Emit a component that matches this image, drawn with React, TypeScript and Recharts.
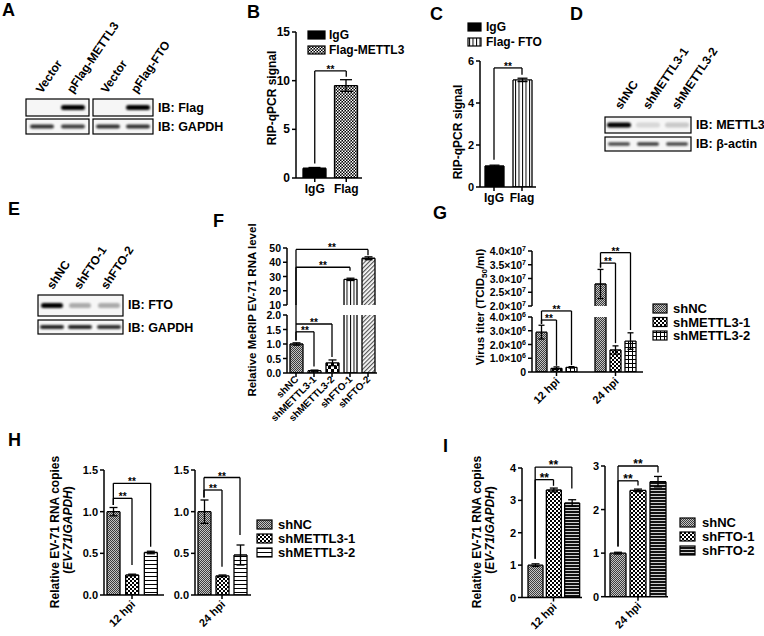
import React from "react";
import { BarChart, Bar, XAxis, YAxis, Cell, ErrorBar, ReferenceLine } from "recharts";

const FONT = "'Liberation Sans', Arial, sans-serif";
const AX = { stroke: "#000", strokeWidth: 1.5 };

type Bracket = [string, string, number, number, number]; // from, to, level, left foot, right foot
type Leg = [string, number, number];

// ---------- data ----------
const B_CATS = ["IgG", "Flag"];
const B_VALUES = [1.0, 9.5];
const B_ERRORS = [0.08, 0.6];
const B_TICKS = [0, 5, 10, 15];
const B_BRACKETS: Bracket[] = [["IgG", "Flag", 11, 1.5, 10.4]];

const C_CATS = ["IgG", "Flag"];
const C_VALUES = [1.0, 5.1];
const C_ERRORS = [0.04, 0.08];
const C_TICKS = [0, 2, 4, 6];
const C_BRACKETS: Bracket[] = [["IgG", "Flag", 5.67, 1.3, 5.35]];

const F_CATS = ["shNC", "shMETTL3-1", "shMETTL3-2", "shFTO-1", "shFTO-2"];
const F_VALUES = [1.0, 0.08, 0.35, 28.0, 42.8];
const F_ERRORS = [0.04, 0.02, 0.1, 0.8, 1.0];
const F_LOW_TICKS = [0, 0.5, 1, 1.5, 2];
const F_HIGH_TICKS = [10, 20, 30, 40, 50];
const F_LOW_BRACKETS: Bracket[] = [
  ["shNC", "shMETTL3-1", 1.42, 1.12, 0.22],
  ["shNC", "shMETTL3-2", 1.69, 1.12, 0.55],
];
const F_LOW_LEGS: Leg[] = [["shNC", 1.69, 2.35]];
const F_HIGH_BRACKETS: Bracket[] = [
  ["shNC", "shFTO-1", 36.5, 10, 34],
  ["shNC", "shFTO-2", 49, 10, 45],
];

const G_CATS = ["shNC", "shMETTL3-1", "shMETTL3-2"];
const G_12_VALUES = [2.9e6, 0.27e6, 0.34e6];
const G_12_ERRORS = [0.5e6, 0.1e6, 0.05e6];
const G_24_VALUES = [2.8e7, 1.6e6, 2.25e6];
const G_24_ERRORS = [0.53e7, 0.3e6, 0.6e6];
const G_LOW_TICKS = [0, 1e6, 2e6, 3e6, 4e6];
const G_HIGH_TICKS = [2e7, 2.5e7, 3e7, 3.5e7, 4e7];
const G_12_BRACKETS: Bracket[] = [
  ["shNC", "shMETTL3-1", 3.78e6, 3.5e6, 0.45e6],
  ["shNC", "shMETTL3-2", 4.44e6, 3.5e6, 0.5e6],
];
const G_24_BRACKETS: Bracket[] = [
  ["shNC", "shMETTL3-1", 3.56e7, 3.4e7, 2e7],
  ["shNC", "shMETTL3-2", 3.94e7, 3.4e7, 2e7],
];
const G_24_LEGS: Leg[] = [
  ["shMETTL3-1", 2.1e6, 4.8e6],
  ["shMETTL3-2", 3.05e6, 4.8e6],
];

const H_CATS = ["shNC", "shMETTL3-1", "shMETTL3-2"];
const H_TICKS = [0, 0.5, 1, 1.5];
const H_12_VALUES = [1.0, 0.24, 0.51];
const H_12_ERRORS = [0.05, 0.01, 0.015];
const H_24_VALUES = [1.0, 0.23, 0.48];
const H_24_ERRORS = [0.14, 0.01, 0.12];
const H_12_BRACKETS: Bracket[] = [
  ["shNC", "shMETTL3-1", 1.16, 1.08, 0.36],
  ["shNC", "shMETTL3-2", 1.34, 1.08, 0.58],
];
const H_24_BRACKETS: Bracket[] = [
  ["shNC", "shMETTL3-1", 1.26, 1.17, 0.34],
  ["shNC", "shMETTL3-2", 1.41, 1.17, 0.72],
];

const I_CATS = ["shNC", "shFTO-1", "shFTO-2"];
const I_12_TICKS = [0, 1, 2, 3, 4];
const I_24_TICKS = [0, 1, 2, 3];
const I_12_VALUES = [1.0, 3.32, 2.92];
const I_12_ERRORS = [0.04, 0.06, 0.1];
const I_24_VALUES = [1.0, 2.44, 2.64];
const I_24_ERRORS = [0.02, 0.03, 0.12];
const I_12_BRACKETS: Bracket[] = [
  ["shNC", "shFTO-1", 3.64, 1.2, 3.45],
  ["shNC", "shFTO-2", 4.03, 1.2, 3.37],
];
const I_24_BRACKETS: Bracket[] = [
  ["shNC", "shFTO-1", 2.66, 1.15, 2.55],
  ["shNC", "shFTO-2", 3.0, 1.15, 2.85],
];

// western blot band strengths, per lane
const A_FLAG = [0, 1, 0, 1];
const A_GAPDH = [0.8, 0.75, 0.8, 0.8];
const D_METTL3 = [1, 0.12, 0.18];
const D_ACTIN = [0.7, 0.75, 0.7];
const E_FTO = [1, 0.3, 0.3];
const E_GAPDH = [0.85, 0.85, 0.8];

// ---------- fills ----------
const B_FILLS = ["#000", "url(#pCheckFine)"];
const C_FILLS = ["#000", "url(#pVert)"];
const F_FILLS = ["url(#pGray)", "url(#pGrid)", "url(#pCheckBig)", "url(#pVert)", "url(#pDiag)"];
const G_FILLS = ["url(#pGray)", "url(#pCheck)", "url(#pGrid)"];
const H_FILLS = ["url(#pGray)", "url(#pCheck)", "url(#pHorizW)"];
const I_FILLS = ["url(#pGray)", "url(#pCheck)", "url(#pHorizB)"];

const fmt0 = (v: number) => String(v);
const fmt1 = (v: number) => v.toFixed(1);
const fmtSci = (exp: number) => (v: number) =>
  v === 0 ? "0" : (
    <>
      {(v / 10 ** exp).toFixed(1)}×10
      <tspan dy={-4} fontSize={7}>{exp}</tspan>
    </>
  );

function lowPart(values: number[], errors: number[], max: number) {
  return {
    v: values.map((v) => Math.min(v, max)),
    e: errors.map((e, i) => (values[i] > max ? null : e)),
  };
}
function highPart(values: number[], errors: number[], min: number) {
  return {
    v: values.map((v) => (v > min ? v : null)),
    e: errors.map((e, i) => (values[i] > min ? e : null)),
  };
}

// "**" over a bracket, drawn from the reference line's own box
const stars = (size: number) => (lp: any) => {
  const vb = lp?.viewBox;
  if (!vb || !isFinite(vb.x)) return null;
  return (
    <text x={vb.x + vb.width / 2} y={vb.y + 2} textAnchor="middle" fontSize={size} fontWeight={700}
      fill="#000" stroke="none" fontFamily={FONT}>
      **
    </text>
  );
};

interface SegProps {
  x: number; y: number; w: number; h: number;
  cats: string[];
  values: (number | null)[];
  errors: (number | null)[];
  fills: string[];
  domain: [number, number];
  ticks: number[];
  fmt: (v: number) => React.ReactNode;
  barSize: number;
  padL?: number;
  padR?: number;
  showY?: boolean;
  xMode: "none" | "flat" | "rot" | "group";
  groupLabel?: string;
  brackets?: Bracket[];
  legs?: Leg[];
  star?: number;
  tickFont?: number;
}

function Seg(p: SegProps) {
  const ML = 70, MT = 30, MR = 20, MB = 60;
  const rows = p.cats.map((name, i) => ({ name, v: p.values[i], e: p.errors[i] }));
  const refs: React.ReactNode[] = [];
  const line = (key: string, a: any, b: any, label?: any) =>
    refs.push(
      <ReferenceLine key={key} segment={[a, b]} stroke="#000" strokeWidth={1.3} ifOverflow="visible" label={label} />
    );
  (p.brackets ?? []).forEach(([a, b, y, ya, yb], i) => {
    line(`a${i}`, { x: a, y: ya }, { x: a, y });
    line(`m${i}`, { x: a, y }, { x: b, y }, stars(p.star ?? 10));
    line(`b${i}`, { x: b, y }, { x: b, y: yb });
  });
  (p.legs ?? []).forEach(([c, y1, y2], i) => line(`g${i}`, { x: c, y: y1 }, { x: c, y: y2 }));

  // bars cut by the axis break stay open on the cut side
  const barShape = (sp: any) => {
    const { x, y, width, height, fill } = sp;
    if (!(height > 0) || !(width > 0)) return <g />;
    const openTop = sp.payload && sp.payload.v >= p.domain[1];
    const openBottom = p.domain[0] > 0;
    const sides = [
      `M${x},${y + height} L${x},${y}`,
      `M${x + width},${y} L${x + width},${y + height}`,
      openTop ? "" : `M${x},${y} L${x + width},${y}`,
      openBottom ? "" : `M${x},${y + height} L${x + width},${y + height}`,
    ].join(" ");
    return (
      <g>
        <rect x={x} y={y} width={width} height={height} fill={fill} />
        <path d={sides} stroke="#000" strokeWidth={1.3} fill="none" />
      </g>
    );
  };

  const tf = p.tickFont ?? 11;
  const yTick = (t: any) => (
    <text x={t.x} y={t.y} dy={4} textAnchor="end" fontSize={tf} fontWeight={700} fontFamily={FONT} fill="#000">
      {p.fmt(t.payload.value)}
    </text>
  );
  const rotTick = (t: any) => (
    <g transform={`translate(${t.x + 3},${t.y + 3}) rotate(-45)`}>
      <text textAnchor="end" fontSize={10} fontWeight={700} fontFamily={FONT} fill="#000">{t.payload.value}</text>
    </g>
  );
  const mid = p.cats[1];
  const groupTick = (t: any) =>
    t.payload.value !== mid ? <g /> : (
      <g>
        <line x1={t.x} y1={t.y} x2={t.x} y2={t.y + 4} {...AX} />
        <g transform={`translate(${t.x + 4},${t.y + 10}) rotate(-45)`}>
          <text textAnchor="end" fontSize={11} fontWeight={700} fontFamily={FONT} fill="#000">{p.groupLabel}</text>
        </g>
      </g>
    );

  let xProps: any = { axisLine: false, tickLine: false, tick: false };
  if (p.xMode === "flat")
    xProps = { axisLine: AX, tickLine: AX, tickSize: 4, tick: { fontSize: 12, fontWeight: 700, fill: "#000", fontFamily: FONT } };
  if (p.xMode === "rot") xProps = { axisLine: AX, tickLine: AX, tickSize: 4, tickMargin: 0, tick: rotTick };
  if (p.xMode === "group") xProps = { axisLine: AX, tickLine: false, tickSize: 0, tickMargin: 0, tick: groupTick };

  const show = p.showY !== false;
  return (
    <div style={{ position: "absolute", left: p.x - ML, top: p.y - MT }}>
      <BarChart width={ML + p.w + MR} height={MT + p.h + MB} data={rows} margin={{ top: MT, right: MR, left: 0, bottom: 0 }}>
        <XAxis dataKey="name" height={MB} interval={0} padding={{ left: p.padL ?? 0, right: p.padR ?? 0 }} {...xProps} />
        <YAxis
          type="number"
          width={ML}
          domain={p.domain}
          ticks={p.ticks}
          interval={0}
          allowDataOverflow
          axisLine={show ? AX : false}
          tickLine={show ? AX : false}
          tickSize={4}
          tickMargin={2}
          tick={show ? yTick : false}
        />
        <Bar dataKey="v" barSize={p.barSize} shape={barShape} isAnimationActive={false}>
          {rows.map((r, i) => (
            <Cell key={i} fill={p.fills[i]} />
          ))}
          <ErrorBar dataKey="e" width={Math.max(3, Math.round(p.barSize * 0.28))} stroke="#000" strokeWidth={1.3} direction="y" />
        </Bar>
        {refs}
      </BarChart>
    </div>
  );
}

function Blot({ x, y, w, h, lanes, levels, bw, bh }: any) {
  return (
    <g>
      <rect x={x} y={y} width={w} height={h} fill="#f6f6f6" stroke="#000" strokeWidth={1.2} />
      {lanes.map((cx: number, i: number) =>
        levels[i] > 0 ? (
          <rect key={i} x={cx - bw / 2} y={y + h / 2 - bh / 2} width={bw} height={bh} rx={bh / 2}
            fill="#000" opacity={levels[i]} filter="url(#blur)" />
        ) : null
      )}
    </g>
  );
}

function Lanes({ starts, y, labels }: { starts: number[]; y: number; labels: string[] }) {
  return (
    <>
      {labels.map((l, i) => (
        <g key={l + i} transform={`translate(${starts[i]},${y}) rotate(-56)`}>
          <text fontSize={12} fontWeight={700} fill="#000">{l}</text>
        </g>
      ))}
    </>
  );
}

function Legend({ x, y, items, bw, bh, step, dx, fs }: any) {
  return (
    <g>
      {items.map(([fill, label]: [string, string], i: number) => (
        <g key={label}>
          <rect x={x} y={y + i * step} width={bw} height={bh} fill={fill} stroke="#000" strokeWidth={1.2} />
          <text x={x + dx} y={y + i * step + bh / 2 + fs * 0.36} fontSize={fs} fontWeight={700} fill="#000">{label}</text>
        </g>
      ))}
    </g>
  );
}

function VTitle({ cx, cy, fs, children }: any) {
  return (
    <text transform={`translate(${cx + fs * 0.36},${cy}) rotate(-90)`} textAnchor="middle" fontSize={fs} fontWeight={700} fill="#000">
      {children}
    </text>
  );
}

function Overlay() {
  const letters: [string, number, number][] = [
    ["A", 2, 16], ["B", 247, 18], ["C", 430, 20], ["D", 570, 20], ["E", 8, 215],
    ["F", 213, 227], ["G", 433, 219], ["H", 8, 446], ["I", 443, 452],
  ];
  return (
    <svg width={764} height={636} style={{ position: "absolute", left: 0, top: 0 }} fontFamily={FONT}>
      <defs>
        <filter id="blur" x="-30%" y="-100%" width="160%" height="300%">
          <feGaussianBlur stdDeviation="1.1" />
        </filter>
        <pattern id="pGray" width={2} height={2} patternUnits="userSpaceOnUse">
          <rect width={2} height={2} fill="#c4c4c4" />
          <rect width={1} height={1} fill="#3c3c3c" />
          <rect x={1} y={1} width={1} height={1} fill="#3c3c3c" />
        </pattern>
        <pattern id="pCheckFine" width={3} height={3} patternUnits="userSpaceOnUse">
          <rect width={3} height={3} fill="#000" />
          <rect width={1.5} height={1.5} fill="#fff" />
          <rect x={1.5} y={1.5} width={1.5} height={1.5} fill="#fff" />
        </pattern>
        <pattern id="pCheck" width={4} height={4} patternUnits="userSpaceOnUse">
          <rect width={4} height={4} fill="#fff" />
          <rect width={2} height={2} fill="#000" />
          <rect x={2} y={2} width={2} height={2} fill="#000" />
        </pattern>
        <pattern id="pCheckBig" width={6} height={6} patternUnits="userSpaceOnUse">
          <rect width={6} height={6} fill="#fff" />
          <rect width={3} height={3} fill="#000" />
          <rect x={3} y={3} width={3} height={3} fill="#000" />
        </pattern>
        <pattern id="pVert" width={3.5} height={4} patternUnits="userSpaceOnUse">
          <rect width={3.5} height={4} fill="#fff" />
          <rect width={1} height={4} fill="#000" />
        </pattern>
        <pattern id="pHorizW" width={4} height={4} patternUnits="userSpaceOnUse">
          <rect width={4} height={4} fill="#fff" />
          <rect width={4} height={1} fill="#000" />
        </pattern>
        <pattern id="pHorizB" width={3} height={3} patternUnits="userSpaceOnUse">
          <rect width={3} height={3} fill="#111" />
          <rect width={3} height={0.8} fill="#fff" />
        </pattern>
        <pattern id="pGrid" width={4} height={4} patternUnits="userSpaceOnUse">
          <rect width={4} height={4} fill="#fff" />
          <rect width={1} height={4} fill="#000" />
          <rect width={4} height={1} fill="#000" />
        </pattern>
        <pattern id="pDiag" width={3} height={3} patternUnits="userSpaceOnUse" patternTransform="rotate(45)">
          <rect width={3} height={3} fill="#fff" />
          <rect width={1.2} height={3} fill="#555" />
        </pattern>
      </defs>

      {letters.map(([t, x, y]) => (
        <text key={t} x={x} y={y} fontSize={18} fontWeight={700} fill="#000">{t}</text>
      ))}

      {/* A */}
      <Lanes starts={[42, 73, 107, 137]} y={94} labels={["Vector", "pFlag-METTL3", "Vector", "pFlag-FTO"]} />
      <Blot x={26} y={99} w={63} h={17} lanes={[42, 73]} levels={A_FLAG.slice(0, 2)} bw={24} bh={5} />
      <Blot x={93} y={99} w={60} h={17} lanes={[108, 138]} levels={A_FLAG.slice(2)} bw={24} bh={5} />
      <Blot x={26} y={119} w={63} h={15} lanes={[42, 73]} levels={A_GAPDH.slice(0, 2)} bw={24} bh={4} />
      <Blot x={93} y={119} w={60} h={15} lanes={[108, 138]} levels={A_GAPDH.slice(2)} bw={24} bh={4} />
      <text x={158} y={112} fontSize={12.5} fontWeight={700}>IB: Flag</text>
      <text x={158} y={131} fontSize={12.5} fontWeight={700}>IB: GAPDH</text>

      {/* D */}
      <Lanes starts={[621, 649, 678]} y={110} labels={["shNC", "shMETTL3-1", "shMETTL3-2"]} />
      <Blot x={605} y={117} w={86} h={16} lanes={[619, 648, 677]} levels={D_METTL3} bw={24} bh={5} />
      <Blot x={605} y={137} w={86} h={14} lanes={[619, 648, 677]} levels={D_ACTIN} bw={22} bh={3.5} />
      <text x={696} y={129} fontSize={12.5} fontWeight={700}>IB: METTL3</text>
      <text x={696} y={148} fontSize={12.5} fontWeight={700}>IB: β-actin</text>

      {/* E */}
      <Lanes starts={[53, 80, 107]} y={290} labels={["shNC", "shFTO-1", "shFTO-2"]} />
      <Blot x={38} y={295} w={85} h={21} lanes={[52, 80, 109]} levels={E_FTO} bw={22} bh={5} />
      <Blot x={38} y={320} w={85} h={14} lanes={[52, 80, 109]} levels={E_GAPDH} bw={24} bh={4} />
      <text x={128} y={309} fontSize={12.5} fontWeight={700}>IB: FTO</text>
      <text x={128} y={332} fontSize={12.5} fontWeight={700}>IB: GAPDH</text>

      {/* legends */}
      <Legend x={308} y={31} bw={17} bh={8} step={15} dx={21} fs={12}
        items={[[B_FILLS[0], "IgG"], [B_FILLS[1], "Flag-METTL3"]]} />
      <Legend x={468} y={23} bw={13} bh={8} step={15} dx={18} fs={12}
        items={[[C_FILLS[0], "IgG"], [C_FILLS[1], "Flag- FTO"]]} />
      <Legend x={653} y={304} bw={14} bh={9} step={13.5} dx={20} fs={13}
        items={G_CATS.map((c, i) => [G_FILLS[i], c])} />
      <Legend x={257} y={520} bw={15} bh={9} step={14} dx={21} fs={13}
        items={H_CATS.map((c, i) => [H_FILLS[i], c])} />
      <Legend x={680} y={518} bw={15} bh={9} step={14} dx={22} fs={13}
        items={I_CATS.map((c, i) => [I_FILLS[i], c])} />

      {/* axis titles */}
      <VTitle cx={272} cy={98} fs={12}>RIP-qPCR signal</VTitle>
      <VTitle cx={458} cy={132} fs={12}>RIP-qPCR signal</VTitle>
      <VTitle cx={252} cy={310} fs={11.5}>Relative MeRIP EV-71 RNA level</VTitle>
      <VTitle cx={480} cy={307} fs={11.5}>
        Virus titer (TCID<tspan dy={3} fontSize={8}>50</tspan><tspan dy={-3}>/ml)</tspan>
      </VTitle>
      <VTitle cx={55} cy={532} fs={12}>Relative EV-71 RNA copies</VTitle>
      <VTitle cx={68} cy={530} fs={12}>
        (<tspan fontStyle="italic">EV-71</tspan>/<tspan fontStyle="italic">GAPDH</tspan>)
      </VTitle>
      <VTitle cx={477} cy={532} fs={12}>Relative EV-71 RNA copies</VTitle>
      <VTitle cx={490} cy={530} fs={12}>
        (<tspan fontStyle="italic">EV-71</tspan>/<tspan fontStyle="italic">GAPDH</tspan>)
      </VTitle>
    </svg>
  );
}

export default function App() {
  const fLow = lowPart(F_VALUES, F_ERRORS, 2);
  const fHigh = highPart(F_VALUES, F_ERRORS, 10);
  const g12Low = lowPart(G_12_VALUES, G_12_ERRORS, 4e6);
  const g12High = highPart(G_12_VALUES, G_12_ERRORS, 2e7);
  const g24Low = lowPart(G_24_VALUES, G_24_ERRORS, 4e6);
  const g24High = highPart(G_24_VALUES, G_24_ERRORS, 2e7);

  return (
    <div style={{ position: "absolute", left: 0, top: 0, width: 764, height: 636, background: "#fff", overflow: "hidden", fontFamily: FONT }}>
      {/* B */}
      <Seg x={296} y={32} w={66} h={146} cats={B_CATS} values={B_VALUES} errors={B_ERRORS} fills={B_FILLS}
        domain={[0, 15]} ticks={B_TICKS} fmt={fmt0} barSize={23} padL={3} xMode="flat" brackets={B_BRACKETS} tickFont={12} />
      {/* C */}
      <Seg x={480} y={61} w={56} h={126} cats={C_CATS} values={C_VALUES} errors={C_ERRORS} fills={C_FILLS}
        domain={[0, 6]} ticks={C_TICKS} fmt={fmt0} barSize={19} xMode="flat" brackets={C_BRACKETS} tickFont={11} />
      {/* F */}
      <Seg x={287} y={315} w={90} h={58} cats={F_CATS} values={fLow.v} errors={fLow.e} fills={F_FILLS}
        domain={[0, 2]} ticks={F_LOW_TICKS} fmt={fmt1} barSize={13} xMode="rot" brackets={F_LOW_BRACKETS}
        legs={F_LOW_LEGS} tickFont={10.5} />
      <Seg x={287} y={248} w={90} h={57} cats={F_CATS} values={fHigh.v} errors={fHigh.e} fills={F_FILLS}
        domain={[10, 50]} ticks={F_HIGH_TICKS} fmt={fmt0} barSize={13} xMode="none" brackets={F_HIGH_BRACKETS}
        tickFont={10.5} />
      {/* G */}
      <Seg x={532} y={317} w={54} h={55} cats={G_CATS} values={g12Low.v} errors={g12Low.e} fills={G_FILLS}
        domain={[0, 4e6]} ticks={G_LOW_TICKS} fmt={fmtSci(6)} barSize={11} padL={2} padR={7} xMode="group"
        groupLabel="12 hpi" brackets={G_12_BRACKETS} tickFont={10.5} />
      <Seg x={532} y={251} w={54} h={55} cats={G_CATS} values={g12High.v} errors={g12High.e} fills={G_FILLS}
        domain={[2e7, 4e7]} ticks={G_HIGH_TICKS} fmt={fmtSci(7)} barSize={11} padL={2} padR={7} xMode="none" tickFont={10.5} />
      <Seg x={586} y={317} w={57} h={55} cats={G_CATS} values={g24Low.v} errors={g24Low.e} fills={G_FILLS}
        domain={[0, 4e6]} ticks={G_LOW_TICKS} fmt={fmtSci(6)} barSize={11} padL={7} padR={5} xMode="group"
        groupLabel="24 hpi" showY={false} legs={G_24_LEGS} />
      <Seg x={586} y={251} w={57} h={55} cats={G_CATS} values={g24High.v} errors={g24High.e} fills={G_FILLS}
        domain={[2e7, 4e7]} ticks={G_HIGH_TICKS} fmt={fmtSci(7)} barSize={11} padL={7} padR={5} xMode="none"
        showY={false} brackets={G_24_BRACKETS} />
      {/* H */}
      <Seg x={104} y={470} w={60} h={125} cats={H_CATS} values={H_12_VALUES} errors={H_12_ERRORS} fills={H_FILLS}
        domain={[0, 1.5]} ticks={H_TICKS} fmt={fmt1} barSize={13} padR={4} xMode="group" groupLabel="12 hpi"
        brackets={H_12_BRACKETS} />
      <Seg x={195} y={470} w={56} h={125} cats={H_CATS} values={H_24_VALUES} errors={H_24_ERRORS} fills={H_FILLS}
        domain={[0, 1.5]} ticks={H_TICKS} fmt={fmt1} barSize={13} padR={2} xMode="group" groupLabel="24 hpi"
        brackets={H_24_BRACKETS} />
      {/* I */}
      <Seg x={522} y={468} w={60} h={129.5} cats={I_CATS} values={I_12_VALUES} errors={I_12_ERRORS} fills={I_FILLS}
        domain={[0, 4]} ticks={I_12_TICKS} fmt={fmt0} barSize={15} padL={4} padR={1} xMode="group" groupLabel="12 hpi"
        brackets={I_12_BRACKETS} star={12} />
      <Seg x={605} y={466} w={63} h={130.7} cats={I_CATS} values={I_24_VALUES} errors={I_24_ERRORS} fills={I_FILLS}
        domain={[0, 3]} ticks={I_24_TICKS} fmt={fmt0} barSize={16} padL={3} xMode="group" groupLabel="24 hpi"
        brackets={I_24_BRACKETS} star={12} />
      <Overlay />
    </div>
  );
}
